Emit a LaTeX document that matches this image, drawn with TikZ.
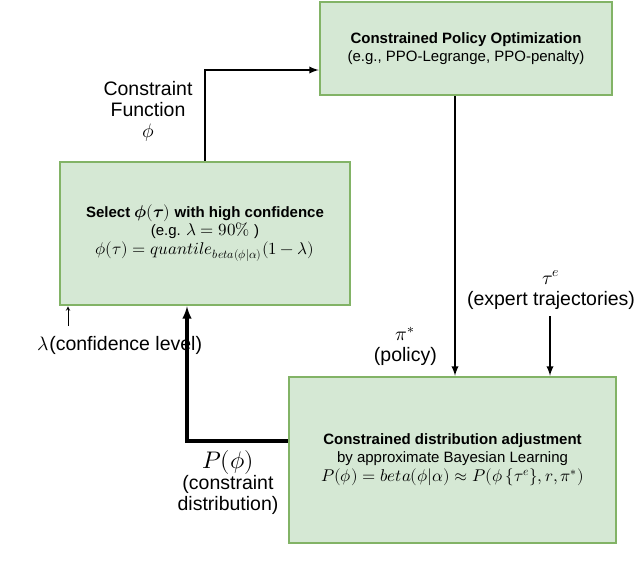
\documentclass[tikz,border=0pt]{standalone}
\usepackage{fontspec}
\setmainfont{Liberation Sans}
\usepackage{amsmath}
\usepackage{unicode-math}
\setmathfont{Latin Modern Math}
\newcommand{\bm}[1]{{\fontsize{17}{19}\selectfont$#1$}}
\begin{document}
\begin{tikzpicture}[x=1pt,y=-1pt,
  box/.style={draw={rgb,255:red,130;green,179;blue,102}, fill={rgb,255:red,213;green,232;blue,212}, line width=2.5pt, align=center, inner sep=0pt, font=\fontsize{15}{18}\selectfont},
  lbl/.style={align=center, font=\fontsize{19.5}{21}\selectfont, inner sep=0pt},
  arr/.style={-latex, line width=2.2pt}]
\useasboundingbox (0,0) rectangle (640,579);
\node[box, minimum width=292, minimum height=93] (cpo) at (466,48.5) {\textbf{Constrained Policy Optimization}\\(e.g., PPO-Legrange, PPO-penalty)};
\node[box, minimum width=290, minimum height=143] (sel) at (205,233.5) {\textbf{Select} {\mathversion{bold}\bm{\symbf{\phi}(\symbf{\tau})}} \textbf{with high confidence}\\(e.g. \bm{\lambda=90\%} )\\[1pt]\bm{\phi(\tau)=quantile_{beta(\phi|\alpha)}(1-\lambda)}};
\node[box, minimum width=327, minimum height=166] (cda) at (452.5,460) {\textbf{Constrained distribution adjustment}\\by approximate Bayesian Learning\\[1pt]\bm{P(\phi)=beta(\phi|\alpha)\approx P(\phi\,\{\tau^e\},r,\pi^*)}};
\coordinate (te) at (550,316);
\coordinate (lam) at (68,326);
\draw[arr] (sel.north) |- (cpo.west |- 0,70);
\draw[arr] (cpo.south -| 455,0) -- (cda.north -| 455,0);
\draw[arr] (te) -- (cda.north -| te);
\draw[-latex, line width=3.2pt] (cda.west |- 0,441) -| (187,0 |- sel.south);
\draw[-stealth, line width=1pt] (lam) -- (lam |- sel.south);
\node[lbl] (cf) at (148,111) {Constraint\\Function\\$\phi$};
\node[lbl] (cl) at (120,345) {$\lambda$(confidence level)};
\node[lbl, anchor=east] (pol) at (437,346) {$\pi^*$\\(policy)};
\node[lbl] (exp) at (551,290) {$\tau^e$\\(expert trajectories)};
\node[lbl] (pd) at (228,483) {{\fontsize{24}{26}\selectfont$P(\phi)$}\\(constraint\\distribution)};
\end{tikzpicture}
\end{document}
